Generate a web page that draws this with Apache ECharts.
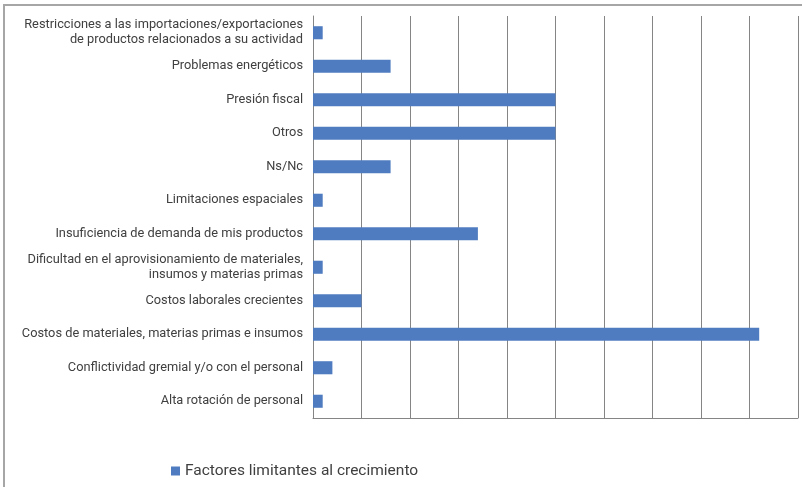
<!DOCTYPE html>
<html>
<head>
<meta charset="utf-8">
<script src="https://cdn.jsdelivr.net/npm/echarts@6/dist/echarts.min.js"></script>
<style>
  html, body { margin: 0; padding: 0; background: #ffffff; }
  #chart { width: 802px; height: 487px; }
</style>
</head>
<body>
<div id="chart"></div>
<script>
// Factors limiting growth, listed top to bottom
const categories = [
  'Restricciones a las importaciones/exportaciones\nde productos relacionados a su actividad',
  'Problemas energéticos',
  'Presión fiscal',
  'Otros',
  'Ns/Nc',
  'Limitaciones espaciales',
  'Insuficiencia de demanda de mis productos',
  'Dificultad en el aprovisionamiento de materiales,\ninsumos y materias primas',
  'Costos laborales crecientes',
  'Costos de materiales, materias primas e insumos',
  'Conflictividad gremial y/o con el personal',
  'Alta rotación de personal'
];
const values = [1, 8, 25, 25, 8, 1, 17, 1, 5, 46, 2, 1];
const seriesName = 'Factores limitantes al crecimiento';

const chart = echarts.init(document.getElementById('chart'), null, { renderer: 'canvas' });
chart.setOption({
  animation: false,
  backgroundColor: '#ffffff',
  textStyle: { fontFamily: 'Roboto' },
  graphic: [{
    type: 'rect',
    shape: { x: 4, y: 5, width: 900, height: 600 },
    style: { fill: 'none', stroke: '#a6a6a6', lineWidth: 2 },
    silent: true
  }],
  grid: { left: 313, right: 4, top: 16, bottom: 69, containLabel: false },
  legend: {
    data: [seriesName],
    left: 166,
    top: 458,
    icon: 'rect',
    itemWidth: 9,
    itemHeight: 9,
    itemGap: 9,
    textStyle: { fontSize: 15.5, color: '#404040', fontFamily: 'Roboto' }
  },
  xAxis: {
    type: 'value',
    min: 0,
    max: 50,
    interval: 5,
    axisLabel: { show: false },
    axisTick: { show: false },
    axisLine: { show: true, lineStyle: { color: '#858585', width: 1 } },
    splitLine: { show: true, lineStyle: { color: '#858585', width: 1 } }
  },
  yAxis: {
    type: 'category',
    data: categories,
    inverse: true,
    axisTick: { show: false },
    axisLine: { show: true, lineStyle: { color: '#858585', width: 1 } },
    axisLabel: {
      margin: 10,
      fontSize: 12.8,
      lineHeight: 15,
      color: '#404040',
      fontFamily: 'Roboto',
      align: 'right'
    }
  },
  series: [{
    name: seriesName,
    type: 'bar',
    data: values,
    barWidth: '39%',
    itemStyle: { color: '#4f7cc0' }
  }]
});
</script>
</body>
</html>
